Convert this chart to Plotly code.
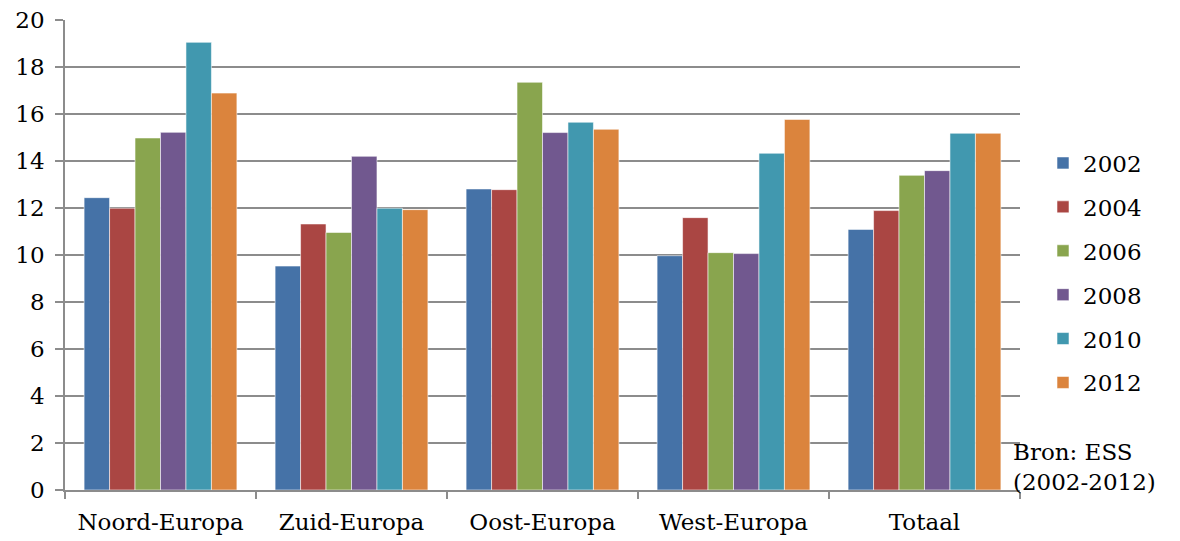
import plotly.graph_objects as go

regions = ["Noord-Europa", "Zuid-Europa", "Oost-Europa", "West-Europa", "Totaal"]
years = ["2002", "2004", "2006", "2008", "2010", "2012"]

v2002 = [12.44, 9.53, 12.81, 9.97, 11.09]
v2004 = [11.99, 11.32, 12.78, 11.59, 11.89]
v2006 = [14.98, 10.96, 17.35, 10.10, 13.39]
v2008 = [15.22, 14.20, 15.21, 10.06, 13.59]
v2010 = [19.05, 11.99, 15.65, 14.33, 15.18]
v2012 = [16.89, 11.93, 15.35, 15.77, 15.18]

series = [v2002, v2004, v2006, v2008, v2010, v2012]
colors = ["#4572A7", "#AA4643", "#89A54E", "#71588F", "#4198AF", "#DB843D"]

FONT = "DejaVu Serif"
FS = 23

ML, MR, MT, MB = 65, 160, 20, 51
W, H = 1180, 541
plot_w = W - ML - MR
plot_h = H - MT - MB

fig = go.Figure()
for year, vals, col in zip(years, series, colors):
    fig.add_trace(go.Bar(
        x=regions, y=vals, name=year, legendgroup=year,
        marker=dict(color=col, line=dict(color="rgba(255,255,255,0.55)", width=1)),
    ))

fig.update_layout(
    width=W, height=H,
    margin=dict(l=ML, r=MR, t=MT, b=MB),
    paper_bgcolor="white", plot_bgcolor="white",
    barmode="group", bargap=0.2, bargroupgap=0,
    font=dict(family=FONT, size=FS, color="#000000"),
    legend=dict(
        x=1.0 + 23 / plot_w, xanchor="left", y=(490 - 273) / plot_h, yanchor="middle",
        font=dict(family=FONT, size=FS),
        traceorder="grouped", tracegroupgap=11,
        itemwidth=30, bgcolor="rgba(0,0,0,0)",
    ),
    xaxis=dict(
        automargin=False,
        showline=True, linecolor="#8c8c8c", linewidth=1.5,
        ticks="outside", tickson="boundaries", ticklen=7, tickcolor="#8c8c8c", tickwidth=1.5,
        ticklabelstandoff=11,
        tickfont=dict(family=FONT, size=FS),
    ),
    yaxis=dict(
        automargin=False,
        range=[0, 20], dtick=2, tick0=0,
        showgrid=True, gridcolor="#8c8c8c", gridwidth=1.5,
        zeroline=False,
        showline=True, linecolor="#8c8c8c", linewidth=1.5,
        ticks="outside", ticklen=8, tickcolor="#8c8c8c", tickwidth=1.5,
        ticklabelstandoff=6,
        tickfont=dict(family=FONT, size=FS),
    ),
    annotations=[
        dict(text="Bron: ESS<br>(2002-2012)",
             x=(1011 - ML) / plot_w, xref="paper",
             y=(490 - 497) / plot_h, yref="paper",
             showarrow=False, align="left", xanchor="left", yanchor="bottom",
             font=dict(family=FONT, size=FS)),
    ],
)

fig.write_html("out.html")
